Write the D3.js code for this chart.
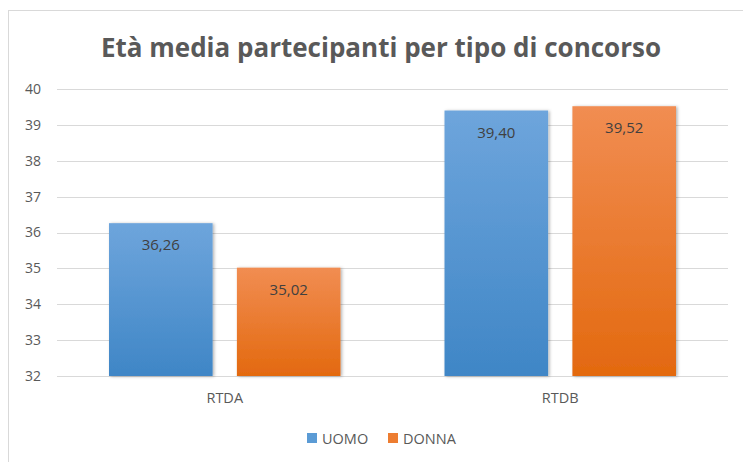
<!DOCTYPE html>
<html>
<head>
<meta charset="utf-8">
<script src="https://cdn.jsdelivr.net/npm/d3@7/dist/d3.min.js"></script>
<style>
  html, body { margin: 0; padding: 0; background: #fff; }
  svg { display: block; font-family: "Open Sans", "Noto Sans", sans-serif; }
</style>
</head>
<body>
<div id="chart"></div>
<script>
    // Dati
    var categories = ['RTDA', 'RTDB'];
    var seriesNames = ['UOMO', 'DONNA'];
    var uomo = [36.26, 39.40];
    var donna = [35.02, 39.52];
    var yTicks = [32, 33, 34, 35, 36, 37, 38, 39, 40];

    var W = 743, H = 462;
    var margin = { left: 57, right: 15, top: 89, bottom: 86 };

    var svg = d3.select('#chart').append('svg')
        .attr('width', W).attr('height', H);

    var defs = svg.append('defs');
    function grad(id, top, bottom) {
        var g = defs.append('linearGradient').attr('id', id)
            .attr('x1', 0).attr('y1', 0).attr('x2', 0).attr('y2', 1);
        g.append('stop').attr('offset', '0%').attr('stop-color', top);
        g.append('stop').attr('offset', '100%').attr('stop-color', bottom);
    }
    grad('g-uomo', '#6ea5dc', '#3f86c6');
    grad('g-donna', '#f18d52', '#e3690f');
    var sh = defs.append('filter').attr('id', 'shadow')
        .attr('x', '-10%').attr('y', '-10%').attr('width', '130%').attr('height', '130%');
    sh.append('feDropShadow').attr('dx', 1.5).attr('dy', 0.5)
        .attr('stdDeviation', 1.5).attr('flood-color', '#000').attr('flood-opacity', 0.3);

    // Cornice del grafico
    svg.append('rect')
        .attr('x', 8.5).attr('y', 10.5).attr('width', W).attr('height', H)
        .attr('fill', 'none').attr('stroke', '#d9d9d9');

    svg.append('text')
        .attr('x', 381).attr('y', 57)
        .attr('text-anchor', 'middle')
        .attr('fill', '#595959')
        .attr('font-size', 26).attr('font-weight', 'bold')
        .text('Età media partecipanti per tipo di concorso');

    var x0 = d3.scaleBand().domain(categories)
        .range([margin.left, W - margin.right]).paddingInner(0.31).paddingOuter(0.155);
    var x1 = d3.scaleBand().domain(seriesNames)
        .range([0, x0.bandwidth()]).paddingInner(0.19);
    var y = d3.scaleLinear().domain([32, 40]).range([H - margin.bottom, margin.top]);

    // Griglia
    svg.append('g').selectAll('line').data(yTicks).join('line')
        .attr('x1', margin.left).attr('x2', W - margin.right)
        .attr('y1', function (d) { return Math.round(y(d)) + 0.5; })
        .attr('y2', function (d) { return Math.round(y(d)) + 0.5; })
        .attr('stroke', '#d9d9d9').attr('stroke-width', 1);

    var yAxis = svg.append('g')
        .attr('transform', 'translate(' + (margin.left - 16) + ',0)')
        .call(d3.axisLeft(y).tickValues(yTicks).tickSize(0).tickPadding(0));
    yAxis.select('.domain').remove();
    yAxis.selectAll('text')
        .attr('fill', '#595959').attr('font-size', 14)
        .attr('font-family', '"Open Sans", sans-serif');

    var xAxis = svg.append('g')
        .attr('transform', 'translate(0,' + (H - margin.bottom) + ')')
        .call(d3.axisBottom(x0).tickSize(0).tickPadding(17));
    xAxis.select('.domain').remove();
    xAxis.selectAll('text')
        .attr('fill', '#595959').attr('font-size', 14.5)
        .attr('font-family', '"Open Sans", sans-serif');

    var rows = categories.map(function (c, i) {
        return [
            { cat: c, s: 'UOMO', v: uomo[i], fill: 'url(#g-uomo)' },
            { cat: c, s: 'DONNA', v: donna[i], fill: 'url(#g-donna)' }
        ];
    });

    var groups = svg.append('g').selectAll('g').data(rows).join('g')
        .attr('transform', function (d) { return 'translate(' + x0(d[0].cat) + ',0)'; });

    groups.selectAll('rect').data(function (d) { return d; }).join('rect')
        .attr('x', function (d) { return x1(d.s); })
        .attr('y', function (d) { return y(d.v); })
        .attr('width', x1.bandwidth())
        .attr('height', function (d) { return y(32) - y(d.v); })
        .attr('fill', function (d) { return d.fill; })
        .attr('filter', 'url(#shadow)');

    groups.selectAll('text').data(function (d) { return d; }).join('text')
        .attr('x', function (d) { return x1(d.s) + x1.bandwidth() / 2; })
        .attr('y', function (d) { return y(d.v) + 27; })
        .attr('text-anchor', 'middle')
        .attr('fill', '#404040').attr('font-size', 15)
        .text(function (d) { return d3.format('.2f')(d.v).replace('.', ','); });

    // Legenda
    var legend = svg.append('g').attr('transform', 'translate(307,438)');
    var items = [
        { name: 'UOMO', color: '#5b9bd5', x: 0 },
        { name: 'DONNA', color: '#ed7d31', x: 81 }
    ];
    var li = legend.selectAll('g').data(items).join('g')
        .attr('transform', function (d) { return 'translate(' + d.x + ',0)'; });
    li.append('rect').attr('x', 0).attr('y', -5).attr('width', 10).attr('height', 10)
        .attr('fill', function (d) { return d.color; });
    li.append('text').attr('x', 15).attr('y', 5.5)
        .attr('fill', '#595959').attr('font-size', 14.5)
        .text(function (d) { return d.name; });
</script>
</body>
</html>
